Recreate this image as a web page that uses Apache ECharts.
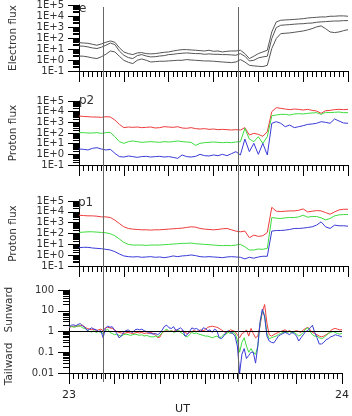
<!DOCTYPE html>
<html>
<head>
<meta charset="utf-8">
<script src="https://cdn.jsdelivr.net/npm/echarts@6/dist/echarts.min.js"></script>
<style>
html, body { margin: 0; padding: 0; background: #fff; }
#main { width: 352px; height: 416px; }
</style>
</head>
<body>
<div id="main"></div>
<script>
// time axis: minutes after 23 UT
var fluxStep = 1
var ratioStep = 0.5
var eventMinutes = [7.45, 36.35]
var hourTicks = [0, 60]
var hourLabels = ['23', '24']
var fluxTickLabels = ['1E-1', '1E+0', '1E+1', '1E+2', '1E+3', '1E+4', '1E+5']
var ratioTickLabels = ['0.01', '0.1', '1', '10', '100']
var panelLabels = ['e', 'p2', 'p1']
var axisNames = ['Electron flux', 'Proton flux', 'Proton flux', 'Tailward   Sunward']

// electron flux, three channels
var electronA = [38, 35, 33, 27, 22, 29, 41, 54, 41, 13, 5.4, 3.8, 3.1, 4.4, 4.7, 3.8, 3.6, 3.8, 4.4, 5.0, 5.4, 6.6, 7.7, 8.8, 8.8, 8.2, 7.7, 7.1, 6.6, 7.7, 6.2, 6.6, 5.4, 6.2, 6.6, 6.6, 7.7, 3.8, 1.35, 2.2, 3.8, 5.4, 7.7, 355, 2900, 4100, 4400, 4600, 4900, 5300, 5700, 6600, 7100, 7600, 8200, 8200, 9500, 9500, 10200, 10200, 9500]
var electronB = [19, 18, 15.5, 12.5, 11, 14.5, 22, 35, 25, 6.6, 2.7, 1.65, 1.35, 2.5, 3.1, 2.3, 1.9, 2.0, 2.3, 2.5, 3.1, 3.3, 3.8, 4.1, 4.4, 4.1, 3.8, 3.8, 3.3, 3.6, 3.3, 3.3, 3.1, 3.1, 2.9, 2.7, 3.8, 2.2, 0.82, 0.94, 1.55, 1.9, 2.2, 89, 890, 1430, 1550, 1650, 1800, 1930, 2000, 2200, 2300, 2700, 2900, 3100, 3300, 3500, 3500, 3800, 3800]
var electronC = [2.3, 2.2, 1.9, 1.55, 1.35, 2.0, 3.3, 6.6, 5.4, 2.2, 0.94, 0.62, 0.47, 0.94, 1.25, 0.94, 0.66, 0.71, 0.77, 0.77, 0.82, 0.88, 0.94, 0.94, 1.09, 1.0, 0.94, 0.88, 0.82, 0.82, 0.77, 0.71, 0.66, 0.62, 0.58, 0.66, 1.09, 0.66, 0.33, 0.29, 0.27, 0.25, 0.33, 11, 89, 250, 270, 290, 330, 380, 435, 540, 710, 1020, 1260, 710, 355, 310, 355, 465, 575]

// proton flux p2
var p2Red = [3900, 3600, 3380, 3150, 3150, 2930, 3380, 3150, 1650, 645, 317, 365, 340, 365, 317, 340, 365, 295, 317, 390, 365, 340, 390, 295, 275, 317, 257, 237, 257, 220, 237, 205, 220, 205, 190, 205, 190, 317, 65, 93, 75, 49, 133, 10000, 23700, 20500, 17700, 15400, 17700, 16500, 14300, 16500, 13300, 11500, 6950, 12400, 13300, 15400, 16500, 15400, 16500]
var p2Green = [108, 108, 100, 100, 108, 93, 108, 116, 45, 15.4, 10.7, 15.4, 17.8, 15.4, 13.3, 14.4, 15.4, 14.4, 13.3, 15.4, 14.4, 15.4, 17.8, 15.4, 14.4, 13.3, 6.9, 10.7, 12.4, 13.3, 14.4, 13.3, 12.4, 13.3, 12.4, 14.4, 15.4, 275, 27, 15.4, 45, 10.7, 45, 4200, 4850, 5600, 5600, 4850, 6050, 6500, 6050, 6950, 7500, 8100, 5600, 8700, 8100, 8700, 9300, 8100, 8100]
var p2Blue = [3.16, 2.95, 2.57, 3.65, 4.2, 3.16, 2.57, 2.95, 1.24, 0.61, 0.56, 0.70, 0.61, 0.52, 0.61, 0.65, 0.56, 0.61, 0.65, 0.56, 0.61, 0.52, 0.42, 0.87, 0.61, 0.56, 0.65, 1.0, 0.75, 0.70, 0.87, 0.75, 1.0, 0.75, 1.15, 1.78, 0.87, 27, 1.78, 10.7, 1.0, 10.7, 0.87, 810, 1150, 810, 390, 560, 317, 390, 485, 645, 700, 810, 1150, 1000, 810, 2050, 1330, 870, 810]

// proton flux p1
var p1Red = [4900, 4550, 4250, 4250, 3950, 3430, 3430, 2980, 1700, 840, 415, 292, 253, 236, 220, 220, 205, 220, 220, 236, 253, 272, 292, 315, 360, 415, 385, 292, 253, 236, 220, 236, 272, 292, 220, 166, 144, 166, 41, 71, 54, 62, 125, 26000, 11400, 10600, 11400, 12200, 12200, 14000, 18600, 9800, 11400, 13100, 12200, 8500, 6000, 9800, 15100, 17300, 17300]
var p1Green = [125, 134, 144, 144, 134, 125, 117, 94, 62, 31, 15.1, 9.9, 8.6, 8.6, 8.6, 8.0, 8.6, 8.6, 8.6, 9.3, 9.9, 10.6, 11.4, 12.3, 12.3, 13.2, 11.4, 10.6, 9.9, 9.3, 8.6, 8.0, 7.5, 8.0, 7.5, 8.6, 9.9, 6.0, 3.0, 3.0, 3.7, 3.45, 4.2, 2980, 2590, 2410, 2780, 2980, 2980, 3430, 4900, 3200, 3680, 3680, 2780, 1820, 2410, 4250, 5250, 5600, 5600]
var p1Blue = [4.9, 5.3, 5.3, 4.6, 4.25, 3.95, 3.45, 3.0, 2.1, 1.29, 0.85, 0.73, 0.68, 0.73, 0.64, 0.68, 0.73, 0.64, 0.68, 0.59, 0.68, 0.85, 0.73, 0.85, 0.91, 1.04, 0.91, 0.73, 0.68, 0.73, 0.68, 0.64, 0.59, 0.68, 0.73, 0.68, 0.64, 0.45, 0.64, 0.52, 0.68, 0.79, 0.79, 166, 190, 190, 205, 236, 292, 292, 315, 360, 415, 590, 1190, 415, 292, 590, 515, 515, 475]

// sunward / tailward ratio, half-minute samples
var ratioRed = [1.5, 1.7, 1.8, 1.7, 1.8, 1.9, 2.0, 1.6, 1.4, 1.3, 1.2, 1.3, 1.1, 1.2, 1.3, 1.1, 1.5, 1.6, 1.5, 1.4, 1.2, 1.0, 0.9, 0.85, 0.8, 0.85, 0.9, 0.85, 0.8, 0.85, 0.9, 0.85, 0.9, 0.8, 0.85, 0.8, 0.9, 0.8, 0.7, 0.5, 0.55, 0.9, 1.0, 1.1, 1.0, 1.1, 1.0, 1.2, 1.1, 1.0, 1.1, 0.9, 0.8, 0.9, 1.0, 1.1, 1.0, 1.1, 1.2, 1.1, 1.2, 1.6, 1.7, 1.8, 1.7, 1.6, 1.4, 1.2, 1.0, 0.9, 1.0, 1.2, 1.1, 1.0, 0.7, 0.5, 0.8, 0.9, 1.2, 0.6, 1.4, 0.8, 0.5, 0.6, 2.0, 9, 20, 2.5, 0.7, 0.6, 0.7, 0.8, 0.9, 1.0, 1.1, 1.2, 1.0, 1.1, 0.9, 1.0, 1.1, 1.0, 0.9, 1.2, 1.4, 1.6, 1.2, 0.9, 0.8, 0.7, 0.6, 0.55, 0.6, 0.7, 0.8, 1.1, 1.3, 1.4, 1.3, 1.2, 1.2]
var ratioGreen = [1.7, 1.8, 1.6, 1.7, 1.9, 1.8, 1.5, 1.4, 1.2, 1.0, 0.95, 1.1, 0.9, 1.0, 0.9, 0.8, 1.1, 1.3, 0.9, 0.8, 0.7, 0.75, 0.65, 0.6, 0.7, 0.75, 0.7, 0.65, 0.7, 0.75, 0.7, 0.65, 0.7, 0.6, 0.65, 0.6, 0.55, 0.55, 0.6, 0.55, 0.65, 0.9, 1.1, 1.3, 1.0, 1.1, 0.9, 1.0, 1.2, 0.9, 0.8, 0.6, 0.55, 0.7, 0.9, 0.8, 0.85, 0.75, 0.7, 0.65, 0.6, 0.6, 0.55, 0.5, 0.55, 0.6, 0.5, 0.55, 0.7, 0.75, 0.9, 0.8, 0.9, 0.8, 0.4, 0.1, 0.3, 0.5, 0.2, 0.1, 0.15, 0.1, 0.08, 0.2, 2.5, 10, 6, 0.8, 0.45, 0.5, 0.55, 0.6, 0.7, 0.8, 0.9, 0.95, 0.9, 1.0, 0.85, 0.9, 0.75, 0.6, 0.7, 0.9, 1.3, 1.5, 1.0, 0.7, 0.6, 0.6, 0.5, 0.45, 0.5, 0.65, 0.8, 0.9, 1.0, 0.9, 0.8, 0.75, 0.8]
var ratioBlue = [1.6, 2.0, 2.1, 1.9, 2.2, 2.4, 1.8, 1.6, 1.1, 1.3, 1.5, 1.3, 1.2, 1.0, 1.1, 0.5, 1.4, 1.8, 1.6, 1.7, 1.2, 0.8, 0.5, 0.6, 0.9, 1.1, 1.2, 1.0, 0.9, 1.2, 1.3, 1.2, 1.3, 1.1, 1.0, 0.9, 0.8, 0.75, 0.8, 0.7, 0.85, 1.2, 1.8, 2.0, 1.5, 1.4, 1.7, 1.1, 1.3, 1.5, 1.2, 0.6, 0.7, 1.0, 1.5, 1.3, 1.4, 1.2, 1.0, 1.5, 1.4, 1.1, 1.2, 0.9, 1.3, 1.1, 0.5, 0.45, 0.6, 0.9, 1.1, 0.9, 0.8, 0.6, 0.2, 0.01, 0.08, 0.15, 0.05, 0.07, 0.1, 0.1, 0.03, 0.2, 3, 12, 5, 0.6, 0.35, 0.3, 0.28, 0.4, 0.6, 0.7, 0.8, 0.9, 0.8, 0.7, 0.9, 0.8, 0.6, 0.35, 0.5, 0.7, 1.0, 1.1, 1.5, 2.0, 0.9, 0.5, 0.25, 0.25, 0.3, 0.4, 0.45, 0.55, 0.6, 0.7, 0.65, 0.6, 0.55]

var RED = '#ee3b3b'
var GREEN = '#3ddc3d'
var BLUE = '#3a3ad8'
var GRAY = '#555'
var FONT = 'DejaVu Sans'

function pairs (values, step) {
  return values.map(function (v, i) { return [i * step, v] })
}

function xAxisFor (idx) {
  var last = idx === 3
  return {
    type: 'value',
    gridIndex: idx,
    min: 0,
    max: 60,
    interval: 10,
    axisLine: { show: true, lineStyle: { color: '#000', width: 1 } },
    axisTick: { show: true, length: 11, lineStyle: { color: '#000' } },
    minorTick: { show: true, splitNumber: 10, length: 6, lineStyle: { color: '#000' } },
    splitLine: { show: false },
    axisLabel: {
      show: last,
      customValues: hourTicks,
      margin: 17,
      fontSize: 11,
      fontFamily: FONT,
      color: '#222',
      formatter: function (v) {
        return hourLabels[hourTicks.indexOf(v)]
      }
    },
    name: last ? 'UT' : '',
    nameLocation: 'middle',
    nameGap: 31,
    nameTextStyle: { fontSize: 11, fontFamily: FONT, color: '#222', padding: [0, 46, 0, 0] }
  }
}

function yAxisFor (idx, min, labels, name) {
  var base = Math.log10(min)
  return {
    type: 'log',
    logBase: 10,
    gridIndex: idx,
    min: min,
    max: min * Math.pow(10, labels.length - 1),
    interval: 1,
    axisLine: { show: true, lineStyle: { color: '#000', width: 1 } },
    axisTick: { show: true, length: 11, lineStyle: { color: '#000' } },
    minorTick: { show: true, splitNumber: 9, length: 6, lineStyle: { color: '#000' } },
    splitLine: { show: false },
    axisLabel: {
      margin: 15,
      fontSize: 10,
      fontFamily: FONT,
      color: '#333',
      formatter: function (v) {
        return labels[Math.round(Math.log10(v) - base)]
      }
    },
    name: name,
    nameLocation: 'middle',
    nameGap: 60,
    nameTextStyle: { fontSize: 10.5, fontFamily: FONT, color: '#333' }
  }
}

function line (name, idx, values, step, color) {
  return {
    name: name,
    type: 'line',
    xAxisIndex: idx,
    yAxisIndex: idx,
    data: pairs(values, step),
    showSymbol: false,
    symbol: 'none',
    lineStyle: { color: color, width: 1 },
    itemStyle: { color: color },
    silent: true
  }
}

var chart = echarts.init(document.getElementById('main'))

var series = [
  line('e1', 0, electronA, fluxStep, GRAY),
  line('e2', 0, electronB, fluxStep, GRAY),
  line('e3', 0, electronC, fluxStep, GRAY),
  line('p2 red', 1, p2Red, fluxStep, RED),
  line('p2 green', 1, p2Green, fluxStep, GREEN),
  line('p2 blue', 1, p2Blue, fluxStep, BLUE),
  line('p1 red', 2, p1Red, fluxStep, RED),
  line('p1 green', 2, p1Green, fluxStep, GREEN),
  line('p1 blue', 2, p1Blue, fluxStep, BLUE),
  line('ratio red', 3, ratioRed, ratioStep, RED),
  line('ratio green', 3, ratioGreen, ratioStep, GREEN),
  line('ratio blue', 3, ratioBlue, ratioStep, BLUE)
]

// unity line in the ratio panel
series[11].markLine = {
  silent: true,
  symbol: 'none',
  label: { show: false },
  lineStyle: { color: '#000', width: 1, type: 'solid' },
  data: [{ yAxis: 1 }]
}

// event lines across all panels
series.push({
  type: 'line',
  xAxisIndex: 4,
  yAxisIndex: 4,
  data: [],
  silent: true,
  markLine: {
    silent: true,
    symbol: 'none',
    label: { show: false },
    lineStyle: { color: '#666', width: 1, type: 'solid' },
    data: eventMinutes.map(function (m) { return { xAxis: m } })
  }
})

chart.setOption({
  animation: false,
  title: [
    { text: panelLabels[0], left: 79, top: 3, padding: 0, textStyle: { fontSize: 12, fontWeight: 'normal', fontFamily: FONT, color: '#333' } },
    { text: panelLabels[1], left: 79, top: 95, padding: 0, textStyle: { fontSize: 12, fontWeight: 'normal', fontFamily: FONT, color: '#333' } },
    { text: panelLabels[2], left: 78, top: 197, padding: 0, textStyle: { fontSize: 12, fontWeight: 'normal', fontFamily: FONT, color: '#333' } }
  ],
  // ratio panel name drawn apart so it does not disturb the time labels
  graphic: [{
    type: 'text',
    x: 9,
    y: 336,
    rotation: Math.PI / 2,
    silent: true,
    style: {
      text: axisNames[3],
      align: 'center',
      verticalAlign: 'middle',
      fontSize: 10.5,
      fontFamily: FONT,
      fill: '#333'
    }
  }],
  grid: [
    { left: 69, right: 4, top: 5, height: 66 },
    { left: 69, right: 4, top: 101, height: 64 },
    { left: 69, right: 4, top: 201, height: 65 },
    { left: 69, right: 4, top: 290, height: 92 },
    { left: 69, right: 4, top: 7, height: 375 }
  ],
  xAxis: [
    xAxisFor(0), xAxisFor(1), xAxisFor(2), xAxisFor(3),
    { type: 'value', gridIndex: 4, min: 0, max: 60, show: false }
  ],
  yAxis: [
    yAxisFor(0, 0.1, fluxTickLabels, axisNames[0]),
    yAxisFor(1, 0.1, fluxTickLabels, axisNames[1]),
    yAxisFor(2, 0.1, fluxTickLabels, axisNames[2]),
    yAxisFor(3, 0.01, ratioTickLabels, ''),
    { type: 'value', gridIndex: 4, min: 0, max: 1, show: false }
  ],
  series: series
})
</script>
</body>
</html>
